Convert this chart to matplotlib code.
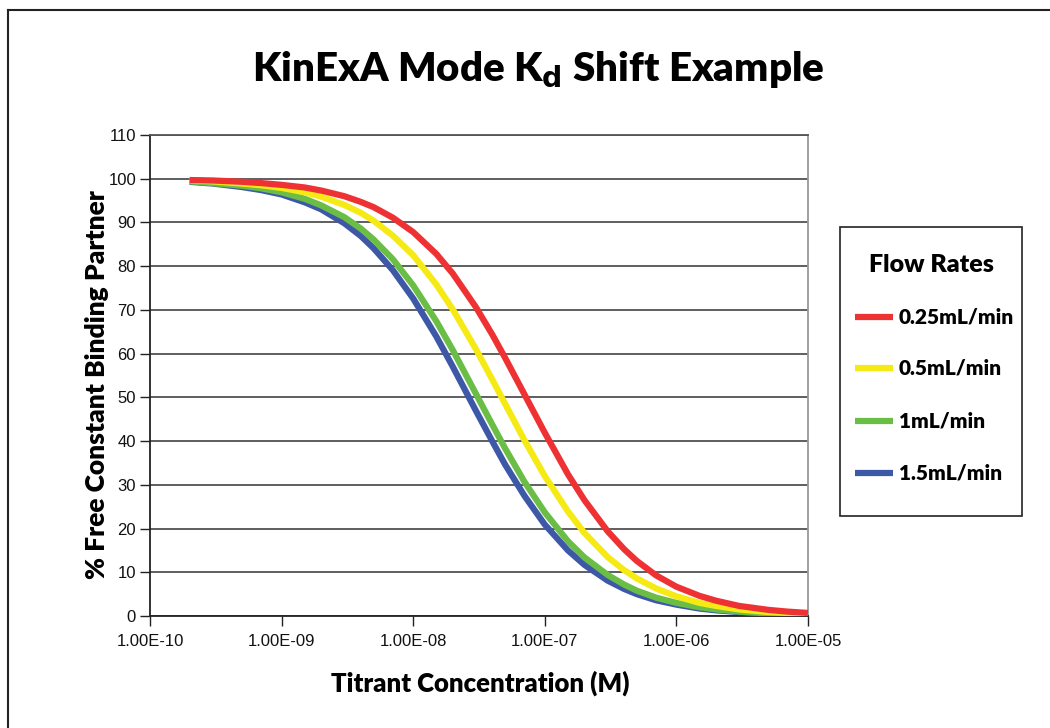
import matplotlib
matplotlib.use("Agg")
import matplotlib.pyplot as plt
from matplotlib.lines import Line2D

conc = [2e-10, 3e-10, 5e-10, 7e-10, 1e-9, 1.5e-9, 2e-9, 3e-9, 4e-9, 5e-9, 7e-9,
        1e-8, 1.5e-8, 2e-8, 3e-8, 4e-8, 5e-8, 7e-8, 1e-7, 1.5e-7, 2e-7, 3e-7,
        4e-7, 5e-7, 7e-7, 1e-6, 1.5e-6, 2e-6, 3e-6, 5e-6, 7e-6, 1e-5]

rate_025 = [99.7, 99.6, 99.3, 99.0, 98.6, 98.0, 97.3, 96.0, 94.7, 93.5, 91.1,
            87.8, 82.8, 78.3, 70.6, 64.3, 59.0, 50.7, 41.9, 32.4, 26.5, 19.4,
            15.3, 12.6, 9.3, 6.7, 4.6, 3.5, 2.3, 1.4, 1.0, 0.7]
rate_05 = [99.6, 99.4, 98.9, 98.5, 97.9, 96.9, 95.9, 94.0, 92.2, 90.4, 87.0,
           82.5, 75.8, 70.1, 61.0, 54.0, 48.5, 40.2, 32.0, 23.9, 19.0, 13.5,
           10.5, 8.6, 6.3, 4.5, 3.0, 2.3, 1.5, 0.9, 0.7, 0.5]
rate_1 = [99.4, 99.0, 98.4, 97.8, 96.9, 95.4, 93.9, 91.2, 88.6, 86.1, 81.6,
          75.6, 67.4, 60.8, 50.8, 43.7, 38.3, 30.7, 23.7, 17.1, 13.4, 9.4,
          7.2, 5.8, 4.2, 3.0, 2.0, 1.5, 1.0, 0.6, 0.4, 0.3]
rate_15 = [99.3, 98.9, 98.1, 97.4, 96.4, 94.6, 93.0, 89.8, 86.9, 84.1, 79.1,
           72.6, 63.9, 57.0, 46.9, 39.9, 34.6, 27.5, 20.9, 15.0, 11.7, 8.1,
           6.2, 5.0, 3.6, 2.6, 1.7, 1.3, 0.9, 0.5, 0.4, 0.3]

series_labels = ["0.25mL/min", "0.5mL/min", "1mL/min", "1.5mL/min"]
series_colors = ["#ee3234", "#f5ea14", "#6abd45", "#3e58a8"]
x_ticks = [1e-10, 1e-9, 1e-8, 1e-7, 1e-6, 1e-5]
x_tick_labels = ["1.00E-10", "1.00E-09", "1.00E-08", "1.00E-07", "1.00E-06", "1.00E-05"]
y_ticks = list(range(0, 111, 10))

W, H = 1050, 728
fig = plt.figure(figsize=(W / 100, H / 100), dpi=100)

BOLD = "heavy"

# outer frame (top and left)
fig.add_artist(Line2D([8 / W, 1.0], [1 - 10 / H, 1 - 10 / H], color="#222222", lw=1.5))
fig.add_artist(Line2D([8 / W, 8 / W], [0, 1 - 10 / H], color="#222222", lw=1.5))

ax = fig.add_axes([150 / W, 1 - 616 / H, 658 / W, 481 / H])
ax.set_xscale("log")
ax.set_xlim(1e-10, 1e-5)
ax.set_ylim(0, 110)

for vals, col in zip([rate_025, rate_05, rate_1, rate_15][::-1], series_colors[::-1]):
    ax.plot(conc, vals, color=col, lw=4.5, solid_capstyle="butt", zorder=3)

ax.set_yticks(y_ticks)
ax.yaxis.grid(True, color="#333333", lw=1.1)
ax.set_axisbelow(True)
ax.set_xticks(x_ticks)
ax.set_xticklabels(x_tick_labels)
ax.xaxis.set_minor_locator(matplotlib.ticker.NullLocator())
ax.tick_params(axis="both", labelsize=12, length=7, width=1, color="#222222",
               labelcolor="#111111")
ax.tick_params(axis="x", pad=6)
ax.tick_params(axis="y", pad=3)
for lab in ax.get_xticklabels() + ax.get_yticklabels():
    lab.set_family("Liberation Sans")

ax.spines["left"].set_color("#222222")
ax.spines["bottom"].set_color("#222222")
ax.spines["top"].set_color("#555555")
ax.spines["right"].set_color("#999999")
for s in ax.spines.values():
    s.set_linewidth(1.3)

fig.text(538 / W, 1 - 70 / H, r"KinExA Mode K$_\mathbf{d}$ Shift Example", ha="center", va="center",
         fontsize=29, fontweight=BOLD, family="Lato")
fig.text(480 / W, 1 - 683 / H, "Titrant Concentration (M)", ha="center", va="center",
         fontsize=18.5, fontweight=BOLD, family="Lato")
fig.text(97 / W, 1 - 385 / H, "% Free Constant Binding Partner", ha="center", va="center",
         rotation=90, fontsize=19, fontweight=BOLD, family="Lato")

# legend box
lx0, ly0, lx1, ly1 = 840, 227, 1022, 516
fig.add_artist(matplotlib.patches.Rectangle((lx0 / W, 1 - ly1 / H), (lx1 - lx0) / W, (ly1 - ly0) / H,
                                            fill=False, edgecolor="#222222", lw=1.2,
                                            transform=fig.transFigure))
fig.text(931 / W, 1 - 265 / H, "Flow Rates", ha="center", va="center",
         fontsize=18, fontweight=BOLD, family="Lato")
leg_y = [317, 368, 421, 473]
for lab, col, yy in zip(series_labels, series_colors, leg_y):
    fig.add_artist(Line2D([855 / W, 893 / W], [1 - yy / H, 1 - yy / H], color=col, lw=4.5,
                          solid_capstyle="butt"))
    fig.text(899 / W, 1 - yy / H, lab, ha="left", va="center",
             fontsize=15, fontweight=BOLD, family="Lato")

fig.savefig("out.png", dpi=100)
